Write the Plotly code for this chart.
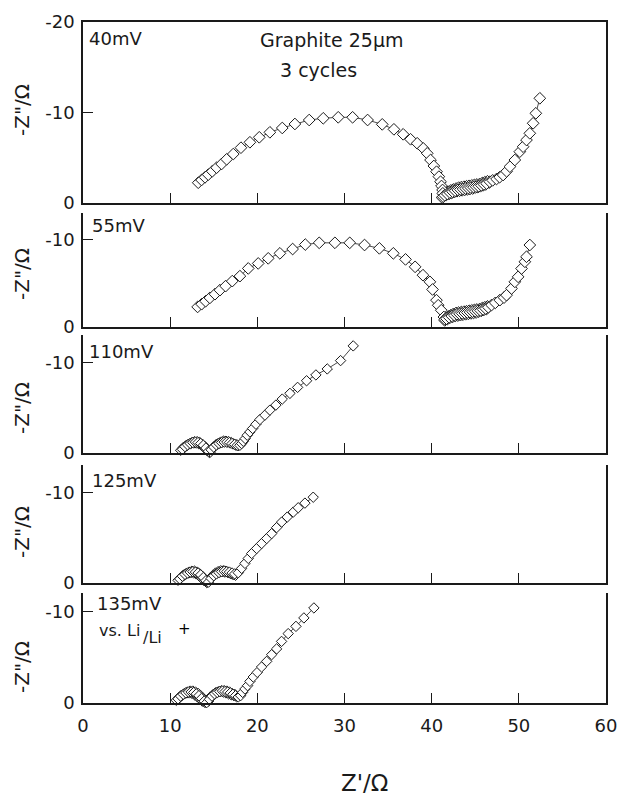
import plotly.graph_objects as go

# ---------------- data (Z' , Z'' in ohm) ----------------
# Panel 1: 40 mV
p1_x = [13.22, 13.6, 14.0, 14.37, 14.83, 15.33, 15.9, 16.48, 17.24, 18.12, 19.15, 20.22, 21.44, 22.86, 24.31,
        25.95, 27.56, 29.28, 30.93, 32.65, 34.33, 35.67, 36.73, 37.58, 38.34, 39.03, 39.49, 39.87, 40.25, 40.56,
        40.83, 41.02, 41.13, 41.25, 41.28,
        41.32, 41.5, 41.8, 42.1, 42.4, 42.7, 43.0, 43.3, 43.6, 43.9, 44.2, 44.5, 44.8, 45.1, 45.4, 45.7, 46.0,
        46.3, 46.67, 47.0, 47.44, 47.8, 48.2, 48.6, 48.97, 49.54, 50.11, 50.49, 50.88, 51.26, 51.64, 51.95, 52.41]
p1_y = [-2.24, -2.54, -2.84, -3.13, -3.50, -3.90, -4.31, -4.83, -5.41, -6.11, -6.71, -7.26, -7.81, -8.29, -8.73,
        -9.17, -9.36, -9.47, -9.47, -9.17, -8.69, -8.14, -7.59, -7.04, -6.60, -6.04, -5.49, -4.75, -4.09, -3.46,
        -2.91, -2.35, -1.88, -1.44, -1.07,
        -0.70, -0.85, -1.0, -1.15, -1.25, -1.35, -1.45, -1.5, -1.55, -1.6, -1.65, -1.7, -1.75, -1.8, -1.85, -1.95, -2.05,
        -2.15, -2.35, -2.5, -2.65, -2.85, -3.09, -3.5, -4.01, -4.75, -5.67, -6.22, -6.96, -7.70, -8.81, -9.91, -11.57]
p1_x_c2 = [41.2, 41.4, 41.7, 42.0, 42.3, 42.6, 42.9, 43.2, 43.5, 43.8, 44.1, 44.4, 44.7, 45.0, 45.3, 45.6, 45.9, 46.2, 46.6]
p1_y_c2 = [-0.6, -0.75, -0.9, -1.0, -1.1, -1.2, -1.3, -1.35, -1.4, -1.45, -1.5, -1.55, -1.6, -1.7, -1.75, -1.85, -1.95, -2.05, -2.25]
p1_x_c3 = [41.4, 41.6, 41.9, 42.2, 42.5, 42.8, 43.1, 43.4, 43.7, 44.0, 44.3, 44.6, 44.9, 45.2, 45.5, 45.8, 46.1, 46.4]
p1_y_c3 = [-0.95, -1.1, -1.25, -1.4, -1.5, -1.6, -1.7, -1.75, -1.8, -1.85, -1.9, -1.95, -2.0, -2.05, -2.1, -2.2, -2.3, -2.4]

# Panel 2: 55 mV
p2_x = [13.15, 13.61, 14.07, 14.56, 15.14, 15.71, 16.36, 17.12, 18.0, 18.96, 20.1, 21.25, 22.59, 24.05, 25.5,
        27.1, 28.9, 30.6, 32.3, 34.0, 35.6, 37.0, 38.1, 39.0, 39.8, 40.1, 40.55, 40.75, 41.1, 41.4, 41.5,
        41.7, 42.0, 42.3, 42.6, 42.9, 43.2, 43.5, 43.8, 44.1, 44.4, 44.7, 45.0, 45.3, 45.6, 45.9, 46.2, 46.5,
        46.87, 47.3, 47.82, 48.3, 48.59, 49.16, 49.54, 49.92, 50.31, 50.69, 50.88, 51.26]
p2_y = [-2.29, -2.60, -2.94, -3.32, -3.74, -4.20, -4.66, -5.23, -5.80, -6.68, -7.25, -7.83, -8.40, -8.89, -9.4,
        -9.6, -9.6, -9.6, -9.35, -8.97, -8.40, -7.71, -6.86, -5.91, -5.15, -4.28, -3.06, -2.48, -1.91, -1.14, -0.88,
        -0.95, -1.1, -1.25, -1.35, -1.45, -1.5, -1.55, -1.6, -1.65, -1.7, -1.75, -1.8, -1.85, -1.9, -2.0, -2.1, -2.25,
        -2.5, -2.75, -3.06, -3.35, -3.63, -4.39, -5.15, -5.72, -6.67, -7.44, -8.01, -9.35]
p2_x_c2 = [41.5, 41.8, 42.1, 42.4, 42.7, 43.0, 43.3, 43.6, 43.9, 44.2, 44.5, 44.8, 45.1, 45.4, 45.7, 46.0, 46.3]
p2_y_c2 = [-0.75, -0.9, -1.05, -1.15, -1.25, -1.3, -1.35, -1.4, -1.45, -1.5, -1.55, -1.6, -1.65, -1.75, -1.85, -1.95, -2.05]
p2_x_c3 = [41.9, 42.2, 42.5, 42.8, 43.1, 43.4, 43.7, 44.0, 44.3, 44.6, 44.9, 45.2, 45.5, 45.8, 46.1, 46.4]
p2_y_c3 = [-1.2, -1.35, -1.5, -1.6, -1.65, -1.7, -1.75, -1.8, -1.85, -1.9, -1.95, -2.0, -2.05, -2.15, -2.25, -2.35]

# Panel 3: 110 mV
p3_x = [11.4, 11.7, 12.0, 12.3, 12.6, 12.9, 13.2, 13.5, 13.8, 14.1, 14.4,
        14.7, 15.0, 15.3, 15.6, 15.9, 16.2, 16.5, 16.8, 17.1, 17.4, 17.7,
        18.0, 18.2, 18.39, 18.61, 18.84, 19.15, 19.46, 19.84, 20.30, 20.87,
        21.44, 22.13, 22.86, 23.74, 24.62, 25.65, 26.72, 28.02, 29.55, 31.0]
p3_y = [-0.4, -0.7, -0.9, -1.05, -1.15, -1.2, -1.15, -1.05, -0.85, -0.55, -0.2,
        -0.35, -0.65, -0.9, -1.05, -1.15, -1.2, -1.2, -1.15, -1.05, -0.95, -0.85,
        -0.85, -1.04, -1.29, -1.59, -1.96, -2.32, -2.70, -3.17, -3.69, -4.17,
        -4.72, -5.28, -5.94, -6.57, -7.23, -7.96, -8.60, -9.26, -10.18, -11.80]
p3_x_c2 = [11.2, 11.5, 11.8, 12.1, 12.4, 12.7, 13.0, 13.3, 13.6, 13.9, 14.2, 14.5,
           14.8, 15.1, 15.4, 15.7, 16.0, 16.3, 16.6, 16.9, 17.2, 17.5, 17.8]
p3_y_c2 = [-0.3, -0.6, -0.8, -0.95, -1.05, -1.1, -1.1, -1.0, -0.85, -0.6, -0.3, -0.05,
           -0.45, -0.75, -0.95, -1.1, -1.2, -1.25, -1.2, -1.1, -1.0, -0.9, -0.8]
p3_x_c3 = [11.6, 11.9, 12.2, 12.5, 12.8, 13.1, 13.4, 13.7, 14.0, 14.3, 14.6,
           14.9, 15.2, 15.5, 15.8, 16.1, 16.4, 16.7, 17.0, 17.3, 17.6]
p3_y_c3 = [-0.55, -0.8, -1.0, -1.15, -1.25, -1.25, -1.15, -0.95, -0.7, -0.35, -0.1,
           -0.55, -0.85, -1.05, -1.2, -1.3, -1.3, -1.25, -1.15, -1.0, -0.9]

# Panel 4: 125 mV
p4_x = [11.1, 11.4, 11.7, 12.0, 12.3, 12.6, 12.9, 13.2, 13.5, 13.8, 14.1,
        14.4, 14.7, 15.0, 15.3, 15.6, 15.9, 16.2, 16.5, 16.8, 17.1, 17.4,
        17.81, 18.20, 18.58, 18.96, 19.35, 19.92, 20.49, 21.07, 21.64, 22.21,
        22.79, 23.43, 24.12, 24.69, 25.46, 26.41]
p4_y = [-0.45, -0.75, -0.95, -1.1, -1.2, -1.25, -1.2, -1.1, -0.9, -0.6, -0.25,
        -0.1, -0.5, -0.8, -1.0, -1.15, -1.25, -1.3, -1.25, -1.2, -1.1, -1.0,
        -1.13, -1.61, -2.16, -2.71, -3.25, -3.80, -4.35, -4.90, -5.44, -6.10,
        -6.71, -7.26, -7.81, -8.29, -8.80, -9.45]
p4_x_c2 = [10.9, 11.2, 11.5, 11.8, 12.1, 12.4, 12.7, 13.0, 13.3, 13.6, 13.9, 14.2,
           14.5, 14.8, 15.1, 15.4, 15.7, 16.0, 16.3, 16.6, 16.9, 17.2, 17.5]
p4_y_c2 = [-0.3, -0.6, -0.85, -1.0, -1.1, -1.15, -1.1, -1.0, -0.8, -0.55, -0.25, -0.05,
           -0.4, -0.7, -0.95, -1.1, -1.2, -1.25, -1.2, -1.15, -1.05, -0.95, -0.85]
p4_x_c3 = [11.3, 11.6, 11.9, 12.2, 12.5, 12.8, 13.1, 13.4, 13.7, 14.0, 14.3,
           14.6, 14.9, 15.2, 15.5, 15.8, 16.1, 16.4, 16.7, 17.0, 17.3]
p4_y_c3 = [-0.6, -0.85, -1.05, -1.2, -1.3, -1.3, -1.2, -1.0, -0.75, -0.4, -0.1,
           -0.55, -0.85, -1.1, -1.25, -1.35, -1.35, -1.3, -1.2, -1.05, -0.95]

# Panel 5: 135 mV
p5_x = [10.9, 11.2, 11.5, 11.8, 12.1, 12.4, 12.7, 13.0, 13.3, 13.6, 13.9,
        14.2, 14.5, 14.8, 15.1, 15.4, 15.7, 16.0, 16.3, 16.6, 16.9, 17.2, 17.5,
        17.81, 18.08, 18.31, 18.58, 18.88, 19.15, 19.53, 19.99, 20.49, 21.07,
        21.64, 22.21, 22.78, 23.54, 24.43, 25.34, 26.49]
p5_y = [-0.45, -0.75, -0.95, -1.1, -1.2, -1.2, -1.15, -1.0, -0.8, -0.5, -0.2,
        -0.05, -0.4, -0.75, -1.0, -1.15, -1.25, -1.3, -1.25, -1.2, -1.1, -0.95, -0.8,
        -0.66, -0.80, -1.16, -1.53, -1.89, -2.36, -2.84, -3.34, -3.93, -4.54,
        -5.27, -5.90, -6.72, -7.57, -8.36, -9.28, -10.37]
p5_x_c2 = [10.7, 11.0, 11.3, 11.6, 11.9, 12.2, 12.5, 12.8, 13.1, 13.4, 13.7, 14.0,
           14.3, 14.6, 14.9, 15.2, 15.5, 15.8, 16.1, 16.4, 16.7, 17.0, 17.3, 17.6]
p5_y_c2 = [-0.3, -0.6, -0.85, -1.0, -1.1, -1.1, -1.05, -0.9, -0.7, -0.45, -0.2, -0.05,
           -0.3, -0.65, -0.9, -1.1, -1.2, -1.25, -1.2, -1.1, -1.0, -0.9, -0.8, -0.7]
p5_x_c3 = [11.1, 11.4, 11.7, 12.0, 12.3, 12.6, 12.9, 13.2, 13.5, 13.8, 14.1,
           14.4, 14.7, 15.0, 15.3, 15.6, 15.9, 16.2, 16.5, 16.8, 17.1, 17.4]
p5_y_c3 = [-0.6, -0.85, -1.05, -1.2, -1.3, -1.3, -1.2, -1.05, -0.8, -0.5, -0.15,
           -0.2, -0.6, -0.9, -1.1, -1.25, -1.35, -1.35, -1.3, -1.2, -1.05, -0.95]

panel_labels = ["40mV", "55mV", "110mV", "125mV", "135mV"]
x_ticks = [0, 10, 20, 30, 40, 50, 60]
y_ticks_top = [-20, -10, 0]
y_ticks = [-10, 0]

# ---------------- figure ----------------
W, H = 619, 798
L, R, T, B = 83, 606, 22, 703          # plot area in px


def px_x(px):
    return (px - L) / (R - L)


def px_y(py):
    return (B - py) / (B - T)


panels = [
    (p1_x, p1_y, p1_x_c2, p1_y_c2, p1_x_c3, p1_y_c3, (22, 203), [0, -20], 9),
    (p2_x, p2_y, p2_x_c2, p2_y_c2, p2_x_c3, p2_y_c3, (213, 327), [0, -13], 9),
    (p3_x, p3_y, p3_x_c2, p3_y_c2, p3_x_c3, p3_y_c3, (335, 453), [0, -13], 8),
    (p4_x, p4_y, p4_x_c2, p4_y_c2, p4_x_c3, p4_y_c3, (465, 583), [0, -13], 8),
    (p5_x, p5_y, p5_x_c2, p5_y_c2, p5_x_c3, p5_y_c3, (593, 703), [0, -12], 8),
]

FONT = "DejaVu Sans, Liberation Sans, Arial, sans-serif"
INK = "#1a1a1a"

fig = go.Figure()
layout = {}
for i, (xa, ya, xb, yb, xc, yc, (top, bot), yr, msize) in enumerate(panels, start=1):
    xs = "x" if i == 1 else f"x{i}"
    ys = "y" if i == 1 else f"y{i}"
    for xx, yy in ((xb, yb), (xc, yc), (xa, ya)):
        fig.add_trace(go.Scatter(
            x=xx, y=yy, xaxis=xs, yaxis=ys, mode="lines+markers",
            line=dict(color=INK, width=0.8),
            marker=dict(symbol="diamond", size=msize, color="white",
                        line=dict(color=INK, width=1)),
            cliponaxis=False, showlegend=False, hoverinfo="skip"))
    last = (i == 5)
    xkey = "xaxis" if i == 1 else f"xaxis{i}"
    ykey = "yaxis" if i == 1 else f"yaxis{i}"
    layout[xkey] = dict(
        domain=[0, 1], range=[0, 60], anchor=ys,
        showline=True, linecolor=INK, linewidth=1.5, mirror=(i == 1),
        ticks="inside", ticklen=10, tickwidth=1.2, tickcolor=INK,
        tickvals=x_ticks, ticktext=[str(v) for v in x_ticks],
        showticklabels=last, showgrid=False, zeroline=False,
        tickfont=dict(family=FONT, size=18, color=INK),
        ticklabelstandoff=6, automargin=False,
    )
    tv = y_ticks_top if i == 1 else y_ticks
    layout[ykey] = dict(
        domain=[px_y(bot), px_y(top)], range=yr, anchor=xs,
        showline=True, linecolor=INK, linewidth=1.5, mirror=True,
        ticks="inside", ticklen=10, tickwidth=1.2, tickcolor=INK,
        tickvals=tv, ticktext=[f"{v}" for v in tv],
        showgrid=False, zeroline=False,
        tickfont=dict(family=FONT, size=18, color=INK),
        ticklabelstandoff=3, automargin=False,
    )

ann = []
# y-axis titles
for yc_px in (110, 274, 408, 532, 667):
    ann.append(dict(text='-Z"/Ω', x=px_x(22), y=px_y(yc_px), xref="paper", yref="paper",
                    textangle=-90, showarrow=False, xanchor="center", yanchor="middle",
                    font=dict(family=FONT, size=20, color=INK)))
# panel labels
for lbl, (lx, ly) in zip(panel_labels, [(87, 39), (90, 225), (87, 351), (90, 480), (95, 603)]):
    ann.append(dict(text=lbl, x=px_x(lx), y=px_y(ly), xref="paper", yref="paper",
                    showarrow=False, xanchor="left", yanchor="middle",
                    font=dict(family=FONT, size=18, color=INK)))
ann.append(dict(text="Graphite 25μm", x=px_x(258), y=px_y(40), xref="paper", yref="paper",
                showarrow=False, xanchor="left", yanchor="middle",
                font=dict(family=FONT, size=19, color=INK)))
ann.append(dict(text="3 cycles", x=px_x(278), y=px_y(70), xref="paper", yref="paper",
                showarrow=False, xanchor="left", yanchor="middle",
                font=dict(family=FONT, size=19, color=INK)))
ann.append(dict(text="vs. Li", x=px_x(97), y=px_y(630), xref="paper", yref="paper",
                showarrow=False, xanchor="left", yanchor="middle",
                font=dict(family=FONT, size=16, color=INK)))
ann.append(dict(text="/Li", x=px_x(141), y=px_y(637), xref="paper", yref="paper",
                showarrow=False, xanchor="left", yanchor="middle",
                font=dict(family=FONT, size=16, color=INK)))
ann.append(dict(text="+", x=px_x(176), y=px_y(629), xref="paper", yref="paper",
                showarrow=False, xanchor="left", yanchor="middle",
                font=dict(family=FONT, size=15, color="#000000")))
# x-axis title
ann.append(dict(text="Z'/Ω", x=px_x(364), y=px_y(783), xref="paper", yref="paper",
                showarrow=False, xanchor="center", yanchor="middle",
                font=dict(family=FONT, size=23, color=INK)))

fig.update_layout(
    width=W, height=H,
    margin=dict(l=L, r=W - R, t=T, b=H - B, pad=0, autoexpand=False),
    paper_bgcolor="white", plot_bgcolor="white",
    annotations=ann, showlegend=False,
)
fig.update_layout(layout)

fig.write_html("out.html", config={"displayModeBar": False},
               post_script="document.body.style.margin='0';document.body.style.padding='0';")
